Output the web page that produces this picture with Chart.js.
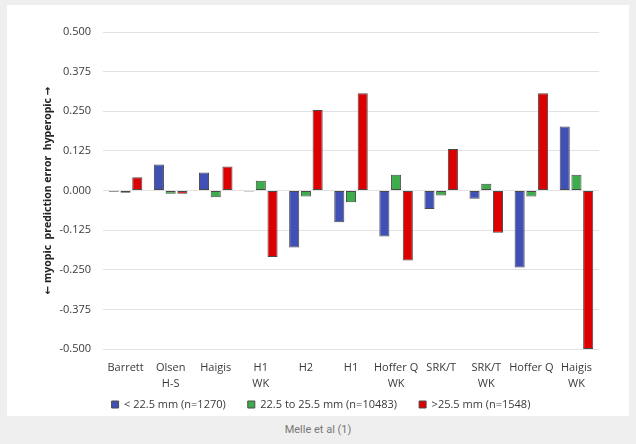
<!DOCTYPE html>
<html>
<head>
<meta charset="utf-8">
<script src="https://cdn.jsdelivr.net/npm/chart.js@4"></script>
<style>
    html, body { margin: 0; padding: 0; background: #efefef; }
    body { width: 636px; height: 444px; position: relative; overflow: hidden; }
    .panel { position: absolute; left: 7px; top: 5px; width: 622px; height: 411px; background: #fff; }
    .caption { position: absolute; left: 0; width: 636px; top: 423px; text-align: center;
        font-family: Roboto, sans-serif; font-size: 11px; color: #777; }
</style>
</head>
<body>
<div class="panel"><canvas id="chart" width="622" height="411"></canvas></div>
<div class="caption">Melle et al (1)</div>
<script>
// Mean prediction error by axial length group
const categories = [
    'Barrett', ['Olsen', 'H-S'], 'Haigis', ['H1', 'WK'], 'H2', 'H1',
    ['Hoffer Q', 'WK'], 'SRK/T', ['SRK/T', 'WK'], 'Hoffer Q', ['Haigis', 'WK']
];
const seriesLabels = ['< 22.5 mm (n=1270)', '22.5 to 25.5 mm (n=10483)', '>25.5 mm (n=1548)'];
const shortEyes = [-0.004, 0.082, 0.057, -0.003, -0.180, -0.100, -0.145, -0.058, -0.026, -0.243, 0.202];
const mediumEyes = [-0.007, -0.010, -0.021, 0.031, -0.019, -0.037, 0.050, -0.016, 0.021, -0.019, 0.050];
const longEyes = [0.042, -0.010, 0.076, -0.210, 0.254, 0.307, -0.221, 0.131, -0.133, 0.307, -0.500];
const yTicks = [-0.5, -0.375, -0.25, -0.125, 0, 0.125, 0.25, 0.375, 0.5];

const colors = ['#4050b5', '#3cad4a', '#dd0000'];
const textColor = '#3a3a3a';
const font = { family: "'Open Sans', sans-serif", size: 11 };

function makeDataset(label, data, color) {
    return {
        label: label,
        data: data,
        backgroundColor: color,
        borderColor: '#4a4a4a',
        borderWidth: 1,
        borderSkipped: false,
        categoryPercentage: 0.78,
        barPercentage: 0.86
    };
}

// keep the legend short in height but wide in item spacing, and nudge it into place
const legendTweak = {
    id: 'legendTweak',
    beforeUpdate(chart) {
        const lg = chart.legend;
        if (lg && !lg._tweaked) {
            const origFit = lg.fit.bind(lg);
            lg.fit = function () {
                origFit();
                this.height = 27;
            };
            lg._tweaked = true;
        }
    },
    afterLayout(chart) {
        const lg = chart.legend;
        if (lg) {
            lg.left += 18;
            lg.right += 18;
            lg.top -= 12;
        }
    }
};

new Chart(document.getElementById('chart'), {
    type: 'bar',
    data: {
        labels: categories,
        datasets: [
            makeDataset(seriesLabels[0], shortEyes, colors[0]),
            makeDataset(seriesLabels[1], mediumEyes, colors[1]),
            makeDataset(seriesLabels[2], longEyes, colors[2])
        ]
    },
    options: {
        responsive: false,
        animation: false,
        layout: { padding: { top: 27, right: 30, left: 0, bottom: 0 } },
        scales: {
            y: {
                min: -0.5,
                max: 0.5,
                afterBuildTicks: (axis) => { axis.ticks = yTicks.map(v => ({ value: v })); },
                afterFit: (axis) => { axis.width = 96; },
                grid: { color: '#e2e2e2', lineWidth: 1, drawTicks: false },
                border: { display: false },
                ticks: {
                    color: textColor,
                    font: font,
                    padding: 12,
                    callback: (v) => Number(v).toFixed(3)
                },
                title: {
                    display: true,
                    text: '\u2190 myopic  prediction error  hyperopic \u2192',
                    color: '#222',
                    font: { family: "'Open Sans', 'DejaVu Sans', sans-serif", size: 10.5, weight: 'bold' },
                    padding: { top: 35, bottom: 0 }
                }
            },
            x: {
                grid: { display: false },
                border: { display: false },
                afterFit: (axis) => { axis.height = 40; },
                ticks: {
                    color: textColor,
                    font: { family: font.family, size: 11, lineHeight: 1.45 },
                    padding: 3,
                    maxRotation: 0,
                    autoSkip: false
                }
            }
        },
        plugins: {
            legend: {
                position: 'bottom',
                labels: {
                    color: textColor,
                    font: font,
                    boxWidth: 7,
                    boxHeight: 7,
                    padding: 22
                }
            },
            tooltip: { enabled: false }
        }
    },
    plugins: [legendTweak]
});
</script>
</body>
</html>
